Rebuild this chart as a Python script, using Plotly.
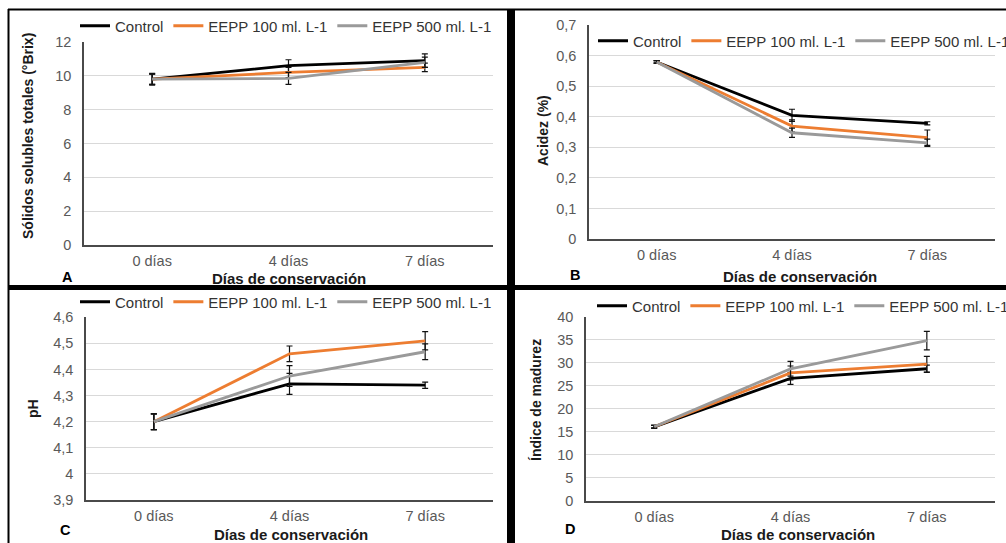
import plotly.graph_objects as go

W, H = 1006, 543

categories = ["0 días", "4 días", "7 días"]
series_names = ["Control", "EEPP 100 ml. L-1", "EEPP 500 ml. L-1"]

# Panel A: Sólidos solubles totales (°Brix)
a_control = [9.8, 10.6, 10.9]
a_control_err = [0.35, 0.35, 0.4]
a_e100 = [9.8, 10.2, 10.5]
a_e100_err = [0.3, 0.3, 0.25]
a_e500 = [9.8, 9.85, 10.8]
a_e500_err = [0.3, 0.35, 0.3]

# Panel B: Acidez (%)
b_control = [0.58, 0.405, 0.379]
b_control_err = [0.004, 0.02, 0.005]
b_e100 = [0.58, 0.37, 0.332]
b_e100_err = [0.004, 0.02, 0.025]
b_e500 = [0.58, 0.348, 0.315]
b_e500_err = [0.004, 0.015, 0.012]

# Panel C: pH
c_control = [4.2, 4.345, 4.34]
c_control_err = [0.03, 0.04, 0.012]
c_e100 = [4.2, 4.46, 4.51]
c_e100_err = [0.03, 0.03, 0.035]
c_e500 = [4.2, 4.375, 4.468]
c_e500_err = [0.03, 0.04, 0.03]

# Panel D: Índice de madurez
d_control = [16.1, 26.6, 28.7]
d_control_err = [0.3, 1.3, 0.8]
d_e100 = [16.1, 27.8, 29.7]
d_e100_err = [0.3, 1.5, 1.7]
d_e500 = [16.1, 28.7, 34.8]
d_e500_err = [0.3, 1.6, 2.0]

colors = ["#000000", "#ED7D31", "#9A9A9A"]
FONT = "Liberation Sans, Arial, sans-serif"

def px(x):
    return x / W

def py(y):
    return 1 - y / H

panels = [
    dict(key="", vals=[a_control, a_e100, a_e500], errs=[a_control_err, a_e100_err, a_e500_err],
         xd=[84, 493], yd=[42, 245], yr=[0, 12], dt=2, legend="legend",
         title="Sólidos solubles totales (°Brix)", tx=28, ty=136, letter="A", lx=67, ly=277,
         xtx=289, xty=278),
    dict(key="2", vals=[b_control, b_e100, b_e500], errs=[b_control_err, b_e100_err, b_e500_err],
         xd=[589, 995], yd=[25.3, 239], yr=[0, 0.7], dt=0.1, legend="legend2",
         title="Acidez (%)", tx=543, ty=131, letter="B", lx=575, ly=275,
         xtx=800, xty=276),
    dict(key="3", vals=[c_control, c_e100, c_e500], errs=[c_control_err, c_e100_err, c_e500_err],
         xd=[86, 493], yd=[317.3, 500], yr=[3.9, 4.6], dt=0.1, legend="legend3",
         title="pH", tx=33, ty=409, letter="C", lx=65, ly=530,
         xtx=291, xty=534),
    dict(key="4", vals=[d_control, d_e100, d_e500], errs=[d_control_err, d_e100_err, d_e500_err],
         xd=[586, 995], yd=[316.7, 501], yr=[0, 40], dt=5, legend="legend4",
         title="Índice de madurez", tx=536, ty=400, letter="D", lx=570, ly=529,
         xtx=798, xty=534),
]

fig = go.Figure()
layout = {}
annotations = []

for p in panels:
    k = p["key"]
    for i in range(3):
        fig.add_trace(go.Scatter(
            x=categories, y=p["vals"][i], name=series_names[i], mode="lines",
            line=dict(color=colors[i], width=2.8),
            error_y=dict(type="data", array=p["errs"][i], color="#111111", thickness=1.2, width=3),
            xaxis="x" + k, yaxis="y" + k, legend=p["legend"], showlegend=True,
        ))
    layout["xaxis" + k] = dict(
        domain=[px(p["xd"][0]), px(p["xd"][1])], anchor="y" + k,
        type="category", range=[-0.5, 2.5], showgrid=False,
        showline=True, linecolor="#4a4a4a", linewidth=1.6,
        ticks="", ticklabelstandoff=2, automargin=False,
        tickfont=dict(family=FONT, size=14.5, color="#595959"), fixedrange=True,
    )
    layout["yaxis" + k] = dict(
        domain=[py(p["yd"][1]), py(p["yd"][0])], anchor="x" + k,
        range=p["yr"], dtick=p["dt"], tick0=p["yr"][0],
        showgrid=True, gridcolor="#D9D9D9", gridwidth=1,
        showline=True, linecolor="#4a4a4a", linewidth=1.6,
        zeroline=False, ticks="", ticklabelstandoff=8, automargin=False,
        tickfont=dict(family=FONT, size=14.5, color="#595959"), fixedrange=True,
    )
    common = dict(xref="paper", yref="paper", showarrow=False, xanchor="center", yanchor="middle")
    annotations.append(dict(text="<b>" + p["title"] + "</b>", x=px(p["tx"]), y=py(p["ty"]),
                            textangle=-90, font=dict(family=FONT, size=14, color="#1a1a1a"), **common))
    annotations.append(dict(text="<b>" + p["letter"] + "</b>", x=px(p["lx"]), y=py(p["ly"]),
                            font=dict(family=FONT, size=14.5, color="#000000"), **common))
    annotations.append(dict(text="<b>Días de conservación</b>", x=px(p["xtx"]), y=py(p["xty"]),
                            font=dict(family=FONT, size=15, color="#1a1a1a"), **common))

legend_pos = {"legend": (75, 26), "legend2": (593, 41), "legend3": (75, 302), "legend4": (592, 306)}
for name, (lx, ly) in legend_pos.items():
    layout[name] = dict(orientation="h", x=px(lx), y=py(ly), xanchor="left", yanchor="middle",
                        font=dict(family=FONT, size=15, color="#333333"),
                        bgcolor="rgba(0,0,0,0)", borderwidth=0, itemwidth=30,
                        tracegroupgap=0)

# Panel frame lines
shapes = [
    dict(type="line", xref="paper", yref="paper", x0=px(8), x1=1, y0=py(9.5), y1=py(9.5),
         line=dict(color="#000000", width=2)),
    dict(type="line", xref="paper", yref="paper", x0=px(8.5), x1=px(8.5), y0=py(9), y1=0,
         line=dict(color="#000000", width=2)),
    dict(type="line", xref="paper", yref="paper", x0=px(511), x1=px(511), y0=py(9), y1=0,
         line=dict(color="#000000", width=8)),
    dict(type="line", xref="paper", yref="paper", x0=px(8), x1=1, y0=py(287.5), y1=py(287.5),
         line=dict(color="#000000", width=5)),
]

fig.update_layout(
    width=W, height=H, margin=dict(l=0, r=0, t=0, b=0, autoexpand=False),
    paper_bgcolor="white", plot_bgcolor="white",
    separators=",.", font=dict(family=FONT),
    annotations=annotations, shapes=shapes, **layout,
)

fig.write_html("out.html", config={"displayModeBar": False},
               post_script="document.body.style.margin='0';document.body.style.overflow='hidden';")
